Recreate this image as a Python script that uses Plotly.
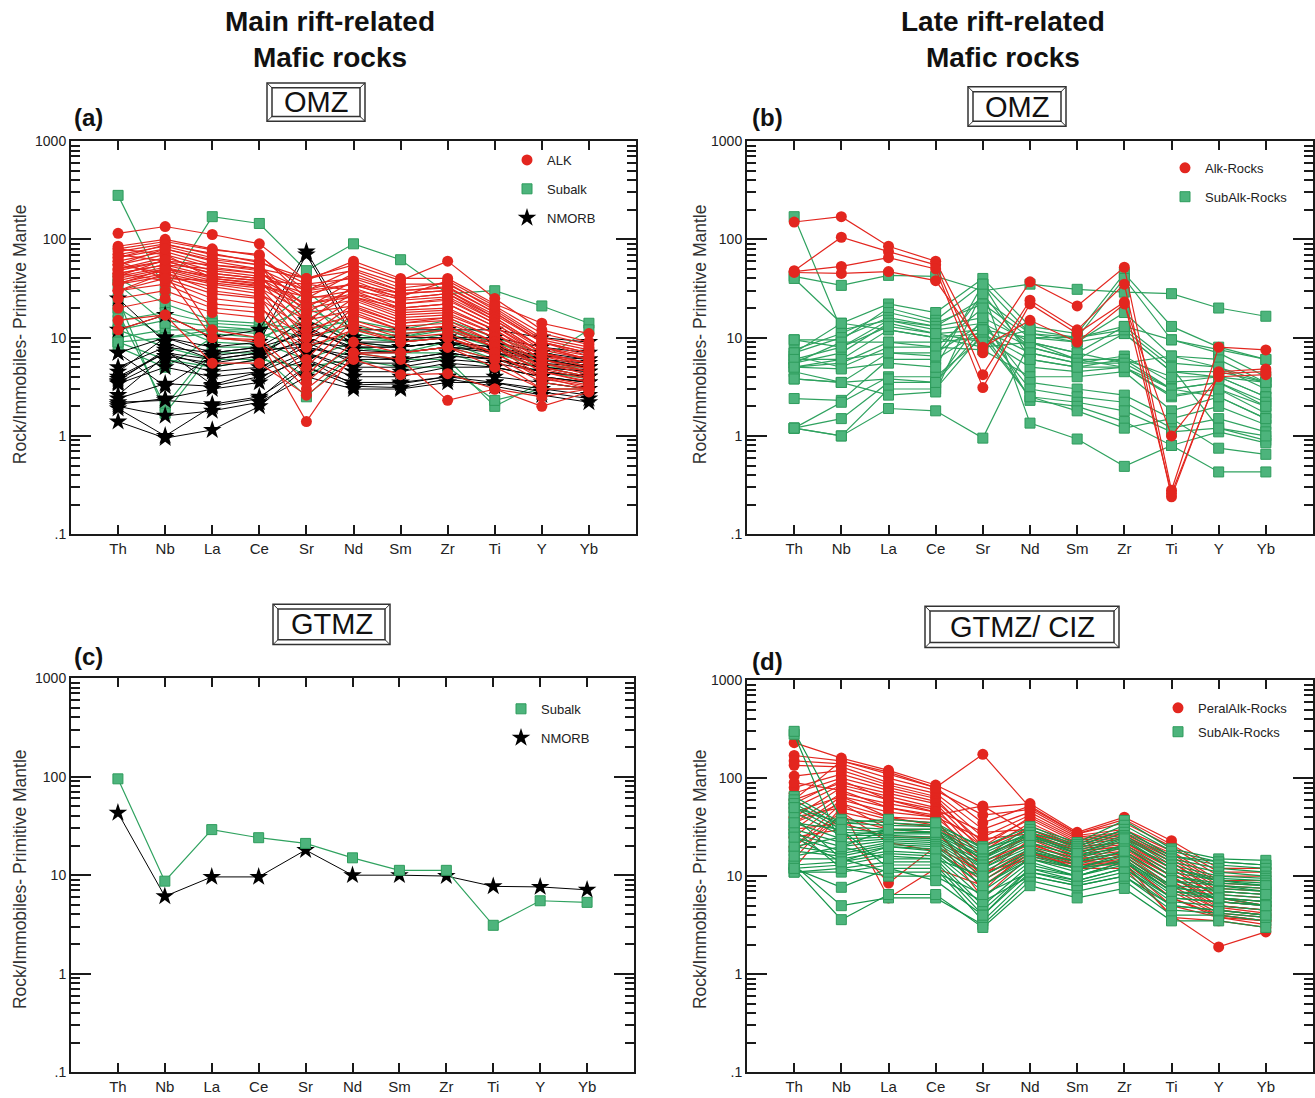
import plotly.graph_objects as go
from plotly.subplots import make_subplots

W, H = 1315, 1098
elements = ["Th", "Nb", "La", "Ce", "Sr", "Nd", "Sm", "Zr", "Ti", "Y", "Yb"]
ytick_vals = [0.1, 1, 10, 100, 1000]
ytick_text = [".1", "1", "10", "100", "1000"]

# ---------------- Panel (a): Main rift-related, OMZ ----------------
alk_a = [
    [115, 135, 112, 90, 38, 60, 40, 40, 22, 14, 11],
    [85, 100, 80, 68, 30, 50, 35, 35, 20, 10, 8],
    [80, 95, 78, 70, 25, 45, 30, 33, 18, 9, 7],
    [75, 90, 70, 60, 35, 40, 28, 30, 17, 9, 6.5],
    [70, 85, 65, 55, 20, 38, 25, 28, 16, 8, 6],
    [65, 80, 60, 50, 30, 35, 24, 26, 15, 8, 6],
    [60, 75, 55, 48, 18, 32, 22, 24, 14, 7, 5.5],
    [55, 70, 52, 45, 25, 30, 20, 22, 13, 7, 5],
    [50, 65, 48, 42, 15, 28, 19, 20, 12, 6.5, 5],
    [48, 60, 45, 40, 22, 26, 18, 19, 12, 6, 4.8],
    [45, 55, 42, 38, 12, 25, 17, 18, 11, 6, 4.5],
    [42, 52, 40, 35, 20, 24, 16, 17, 11, 5.5, 4.5],
    [40, 50, 38, 33, 10, 22, 15, 16, 10, 5.5, 4.2],
    [38, 48, 36, 32, 18, 21, 14, 16, 10, 5, 4],
    [36, 45, 35, 30, 8, 20, 14, 15, 9, 5, 4],
    [35, 42, 33, 28, 15, 19, 13, 14, 9, 4.8, 3.8],
    [55, 45, 30, 26, 6, 18, 12, 13, 8, 4.5, 3.5],
    [60, 40, 28, 25, 12, 17, 12, 13, 8.5, 4.5, 3.6],
    [45, 38, 25, 22, 5, 15, 11, 12, 8, 4, 3.3],
    [30, 35, 22, 20, 10, 14, 10, 11, 7, 4, 3],
    [25, 30, 20, 18, 4, 13, 9, 10, 6.5, 3.5, 3],
    [15, 17, 10, 9, 3, 7, 7, 8, 5, 3, 3],
    [12, 17, 5.5, 5.5, 2.6, 6, 4.2, 4.3, 3, 2, 2.8],
    [30, 45, 10, 9.5, 1.4, 7, 6, 2.3, 3, 2.5, 3],
    [50, 60, 55, 50, 40, 48, 32, 36, 19, 9.5, 7.5],
    [45, 55, 50, 45, 30, 42, 30, 32, 18, 9, 7],
    [70, 60, 45, 40, 28, 35, 28, 30, 16, 8, 6.5],
    [35, 50, 42, 38, 35, 30, 25, 28, 15, 7.5, 6],
    [80, 70, 40, 36, 22, 28, 22, 25, 14, 7, 5.5],
    [30, 40, 38, 34, 26, 26, 20, 22, 13, 6.5, 5.5],
    [65, 88, 72, 58, 40, 55, 38, 60, 25, 12, 9],
    [20, 25, 18, 16, 8, 12, 9, 10, 7, 3.8, 3.2],
    [42, 62, 12, 10, 3.5, 9, 7, 8, 6, 3, 3],
    [55, 80, 62, 55, 14, 34, 26, 38, 21, 11, 8.5],
]
subalk_a = [
    [280, 30, 170, 145, 48, 90, 62, 28, 30, 21, 14],
    [40, 22, 15, 14, 12, 15, 12, 15, 10, 7, 5],
    [15, 18, 14, 13, 10, 13, 11, 12, 9, 6, 5],
    [12, 15, 13, 12, 20, 12, 10, 13, 9, 6, 4.5],
    [10, 12, 12, 11, 8, 11, 9, 11, 8, 5.5, 4.5],
    [9, 10, 11, 10, 15, 10, 9, 10, 7, 5, 4],
    [8, 5, 10, 9, 6, 9, 8, 9, 7, 5, 4],
    [35, 14, 9, 8.5, 25, 8, 7, 8, 6, 4.5, 3.8],
    [18, 2, 8, 8, 4, 8, 7, 7, 5, 4, 3.5],
    [25, 1.7, 7, 7, 2.5, 7, 6, 6, 2, 3.5, 3],
    [12, 8, 6, 6, 5, 6, 5, 5, 2.3, 3, 3],
    [20, 10, 12, 12, 30, 12, 10, 12, 8, 6, 12],
    [9, 6, 5, 6, 18, 8, 7, 9, 6, 5, 5],
]
nmorb_a = [
    [12, 17, 10, 12, 75, 12, 12, 12, 12, 10, 9],
    [7, 10, 8, 9, 70, 10, 10, 10, 10, 8, 7],
    [5, 8, 7, 8, 15, 9, 9, 10, 9, 7, 6],
    [4, 7, 6, 7, 12, 8, 8, 9, 8, 6, 5.5],
    [3.8, 7, 5, 6, 10, 7, 7, 8, 7, 5.5, 5],
    [3.5, 6, 4.5, 5, 8, 6, 6, 7, 6, 5, 4.5],
    [3.4, 5, 4, 4.5, 7, 5, 5, 6, 5.5, 4.5, 4],
    [2.4, 3.4, 3.2, 4, 6, 4, 4, 5, 5, 4, 3.5],
    [2.2, 2.3, 2.1, 2.5, 5, 3.5, 3.5, 4, 4, 3.5, 3],
    [2, 1.6, 1.8, 2.2, 4, 3, 3, 3.5, 3.5, 3, 2.6],
    [1.4, 0.95, 1.15, 2, 5, 3.2, 3.1, 3.8, 3.2, 2.6, 2.2],
    [1.9, 1, 2, 2.4, 6, 3.3, 3.4, 4, 3.5, 2.8, 2.4],
    [25, 9, 6, 7, 9, 8, 8, 9, 7, 6, 5],
    [4.5, 10, 7, 8, 11, 9, 8, 9, 8, 6.5, 6],
    [3.6, 7.5, 3.3, 4.5, 9, 5.5, 5.5, 6.5, 6, 5, 4.5],
    [2.6, 6.5, 5.5, 6.5, 13, 7.5, 7, 8, 7.5, 6, 5],
    [7, 3.2, 6.5, 7.5, 8, 6.5, 6, 7, 6, 4.5, 4],
    [2.1, 2.4, 3, 3.5, 7, 4.5, 4.5, 5.5, 5, 4, 3.5],
]

# ---------------- Panel (b): Late rift-related, OMZ ----------------
alk_b = [
    [150, 170, 85, 60, 7, 37, 21, 52, 0.28, 8, 7.5],
    [48, 105, 75, 55, 4.2, 24, 12, 35, 0.24, 4.5, 4.8],
    [47, 53, 65, 50, 3.1, 22, 11, 23, 0.26, 4.3, 4.5],
    [46, 45, 47, 38, 8, 15, 9, 22, 1.0, 4.0, 4.2],
]
subalk_b = [
    [170, 12, 15, 13, 25, 11, 9, 11, 4.5, 4, 3.5],
    [42, 34, 43, 42, 30, 35, 31, 29, 28, 20, 16.5],
    [40, 14, 22, 18, 40, 13, 11, 45, 13, 8, 6],
    [9.5, 9.5, 20, 15, 35, 11, 10, 40, 9.5, 7, 4],
    [7.5, 11, 18, 14, 22, 10, 9, 18, 6.5, 6, 3.5],
    [7, 10, 16, 13, 16, 9, 7, 13, 5.5, 5, 3],
    [6, 8, 15, 12, 14, 8, 6, 11, 4.5, 4.5, 3.5],
    [5.5, 7, 14, 11, 12, 7, 5.5, 6.5, 3.5, 4, 2.5],
    [5, 6, 12, 10, 11, 6, 5, 6, 3, 3.5, 2],
    [5, 5.5, 9, 9, 10, 5, 4.5, 5, 2.5, 3, 1.7],
    [6.5, 5, 8, 8, 7.5, 4, 4, 4.5, 1.8, 2.5, 1.5],
    [3.8, 3.5, 7, 7, 14, 3.5, 3, 2.6, 1.5, 2, 1.3],
    [2.4, 2.3, 6, 6, 12, 3, 2.5, 2.2, 1.2, 1.5, 1.1],
    [1.2, 2.2, 4, 4, 10, 2.5, 2.2, 1.8, 1.1, 1.2, 0.9],
    [1.2, 1.5, 3.5, 3.5, 16, 2.3, 2, 1.4, 0.8, 1.1, 0.85],
    [1.2, 1.0, 3, 3, 11, 2.5, 1.8, 1.2, 1.5, 0.75, 0.65],
    [4.5, 3.5, 2.6, 2.8, 30, 1.35, 0.93, 0.49, 0.8, 0.43, 0.43],
    [1.2, 1.0, 1.9, 1.8, 0.95, 9, 6, 5, 3, 2.5, 1.5],
    [7, 14, 12, 10, 8, 9, 7, 5.5, 6.5, 5, 3.5],
    [5.5, 9, 9, 8, 20, 8, 6, 6, 4, 4, 2.5],
    [6, 6, 7, 6.5, 28, 7, 5.5, 5.5, 3, 3.5, 2.2],
    [5, 4.8, 5.5, 5, 35, 6, 5, 5, 2.6, 3, 2],
    [3.8, 3.5, 3.8, 3.5, 12, 10, 10, 12, 5, 1.2, 1.0],
    [9.5, 8, 13, 11, 9, 12, 10, 13, 9.5, 7.5, 6],
]

# ---------------- Panel (c): Main rift-related, GTMZ ----------------
subalk_c = [[95, 8.7, 29, 24, 21, 15, 11.2, 11.2, 3.1, 5.5, 5.3]]
nmorb_c = [[43, 6.1, 9.6, 9.6, 18, 10, 10, 9.8, 7.7, 7.6, 7.1]]

# ---------------- Panel (d): Late rift-related, GTMZ/CIZ ----------------
peralk_d = [
    [230, 160, 120, 85, 50, 55, 28, 40, 23, 12, 12],
    [170, 150, 110, 80, 175, 50, 27, 35, 20, 10, 10],
    [150, 140, 100, 75, 42, 48, 26, 30, 18, 9, 9],
    [135, 130, 90, 70, 30, 45, 25, 28, 17, 8.5, 8],
    [105, 120, 85, 65, 25, 42, 24, 27, 16, 8, 7.5],
    [80, 110, 80, 62, 20, 40, 23, 26, 15, 7.5, 7],
    [70, 100, 75, 58, 22, 38, 22, 25, 14, 7, 6.5],
    [60, 90, 70, 55, 18, 35, 21, 24, 14, 6.5, 6],
    [50, 85, 65, 50, 15, 33, 20, 22, 13, 6, 5.5],
    [40, 80, 60, 48, 28, 30, 19, 21, 12, 6, 5],
    [35, 70, 55, 45, 12, 28, 18, 20, 11, 5.5, 5],
    [30, 65, 50, 42, 52, 27, 17, 19, 10, 5, 4.5],
    [25, 60, 45, 40, 16, 25, 16, 18, 10, 5, 4.5],
    [20, 55, 40, 38, 10, 24, 15, 17, 9, 4.5, 4],
    [15, 50, 38, 35, 14, 22, 14, 16, 8, 4.5, 4],
    [12, 45, 35, 32, 7, 20, 13, 15, 7, 4, 3.5],
    [18, 40, 30, 30, 9, 18, 12, 14, 6, 4, 3.5],
    [30, 35, 25, 25, 6, 16, 13, 13, 5, 3.8, 3.2],
    [25, 30, 8.5, 20, 11, 15, 12, 12, 4, 1.9, 2.7],
    [40, 50, 6, 12, 8, 17, 14, 14, 3.8, 3.5, 3],
    [55, 95, 60, 45, 20, 30, 20, 22, 12, 6, 5],
    [90, 75, 50, 40, 24, 27, 18, 20, 10, 5.5, 5],
    [45, 65, 40, 33, 13, 21, 15, 17, 9, 4.8, 4.2],
    [35, 55, 30, 28, 10, 19, 14, 16, 7.5, 4.2, 3.8],
    [60, 150, 115, 80, 35, 52, 27, 38, 21, 11, 11],
    [20, 45, 22, 18, 9, 17, 13, 14, 6, 3.8, 3.5],
]
subalk_d = [
    [280, 20, 30, 30, 15, 28, 20, 30, 16, 14, 13],
    [300, 38, 35, 33, 20, 32, 22, 37, 19, 15, 14.5],
    [65, 35, 33, 32, 18, 30, 21, 33, 18, 14, 13],
    [60, 32, 30, 30, 17, 28, 20, 30, 16, 13, 12],
    [55, 30, 28, 28, 16, 26, 19, 28, 15, 12, 11],
    [50, 28, 27, 27, 15, 25, 18, 26, 14, 11, 10],
    [45, 26, 26, 25, 14, 24, 17, 25, 13, 10, 9.5],
    [35, 24, 25, 24, 13, 22, 16, 23, 12, 9.5, 9],
    [30, 22, 24, 23, 12, 20, 15, 21, 11, 9, 8.5],
    [27, 20, 23, 22, 11, 19, 14, 20, 10, 8.5, 8],
    [25, 18, 22, 21, 10, 18, 13, 18, 9, 8, 7.5],
    [20, 17, 21, 20, 9, 17, 12, 17, 8, 7.5, 7],
    [18, 16, 20, 19, 8, 16, 12, 16, 7.5, 7, 6.5],
    [15, 15, 18, 17, 7, 15, 11, 15, 7, 6.5, 6],
    [13, 14, 17, 16, 6, 14, 10, 14, 6.5, 6, 5.5],
    [12, 13, 16, 15, 5, 13, 10, 13, 6, 5.5, 5],
    [11, 12, 14, 14, 4.5, 12, 9, 12, 5.5, 5, 4.5],
    [11, 11, 13, 13, 4, 11, 8.5, 11, 5, 4.5, 4],
    [12, 7.7, 12, 12, 3.5, 10, 8, 10, 4.5, 4.2, 3.8],
    [13, 5, 6, 6, 3.2, 9, 7, 9, 4, 4, 3.5],
    [12, 3.6, 6.5, 6.5, 3, 8, 6, 7.5, 3.5, 3.5, 3],
    [30, 12, 10, 10, 5.5, 10, 8, 10, 5, 4.5, 4],
    [40, 15, 11, 11, 6.5, 11, 9, 12, 6, 5.5, 5],
    [20, 25, 30, 28, 12, 22, 16, 20, 10, 8, 7],
    [50, 35, 38, 35, 19, 26, 17, 24, 12, 9, 8],
    [25, 14, 20, 18, 8, 15, 12, 14, 8, 6, 5.5],
    [16, 20, 15, 15, 10, 18, 14, 18, 9, 7, 6.5],
    [35, 30, 12, 9, 4, 12, 10, 14, 7, 6, 5],
]

# ---------------- styling ----------------
RED = "#E3261F"
GREEN_FILL = "#4DB47C"
GREEN_EDGE = "#2E9C5C"
GREEN_LINE = "#2FA25F"
GREEN_LINE_D = "#16954A"
BLACK = "#000000"
NARROW = "Liberation Sans Narrow, Arial Narrow, Liberation Sans, Arial, sans-serif"
SANS = "Liberation Sans, Arial, Helvetica, sans-serif"

STY = {
    "red": dict(line=dict(color=RED, width=1.2),
                marker=dict(symbol="circle", size=11, color=RED, line=dict(width=0))),
    "green": dict(line=dict(color=GREEN_LINE, width=1.2),
                  marker=dict(symbol="square", size=10, color=GREEN_FILL,
                              line=dict(color=GREEN_EDGE, width=1))),
    "greend": dict(line=dict(color=GREEN_LINE_D, width=1.2),
                   marker=dict(symbol="square", size=10, color=GREEN_FILL,
                               line=dict(color=GREEN_EDGE, width=1))),
    "black": dict(line=dict(color=BLACK, width=1),
                  marker=dict(symbol="star", size=14, color=BLACK, line=dict(width=0))),
}


def px(x):
    return x / W


def py(y):
    return 1 - y / H


fig = make_subplots(rows=2, cols=2)

panels = {
    (1, 1): dict(xd=(71, 636), yd=(135, 534)),
    (1, 2): dict(xd=(747, 1313), yd=(135, 534)),
    (2, 1): dict(xd=(71, 634), yd=(680, 1080)),
    (2, 2): dict(xd=(747, 1313), yd=(682, 1080)),
}


def add_group(samples, style, row, col):
    xs, ys = [], []
    for s in samples:
        xs += elements + [None]
        ys += list(s) + [None]
    st = STY[style]
    fig.add_trace(go.Scatter(x=xs, y=ys, mode="lines+markers", line=st["line"],
                             marker=st["marker"], showlegend=False,
                             connectgaps=False, hoverinfo="skip"),
                  row=row, col=col)


def add_legend_item(name, style, row, col, legend):
    st = STY[style]
    fig.add_trace(go.Scatter(x=[None], y=[None], mode="markers", name=name,
                             marker=st["marker"], legend=legend,
                             legendgroup=name + legend, showlegend=True),
                  row=row, col=col)


# panel a
add_group(subalk_a, "green", 1, 1)
add_group(nmorb_a, "black", 1, 1)
add_group(alk_a, "red", 1, 1)
add_legend_item("ALK", "red", 1, 1, "legend")
add_legend_item("Subalk", "green", 1, 1, "legend")
add_legend_item("NMORB", "black", 1, 1, "legend")
# panel b
add_group(subalk_b, "green", 1, 2)
add_group(alk_b, "red", 1, 2)
add_legend_item("Alk-Rocks", "red", 1, 2, "legend2")
add_legend_item("SubAlk-Rocks", "green", 1, 2, "legend2")
# panel c
add_group(nmorb_c, "black", 2, 1)
add_group(subalk_c, "green", 2, 1)
add_legend_item("Subalk", "green", 2, 1, "legend3")
add_legend_item("NMORB", "black", 2, 1, "legend3")
# panel d
add_group(peralk_d, "red", 2, 2)
add_group(subalk_d, "greend", 2, 2)
add_legend_item("PeralAlk-Rocks", "red", 2, 2, "legend4")
add_legend_item("SubAlk-Rocks", "green", 2, 2, "legend4")

minor_vals = [m * 10 ** e for e in (-1, 0, 1, 2) for m in range(2, 10)]

for (r, c), p in panels.items():
    xd = [px(p["xd"][0]), px(p["xd"][1])]
    yd = [py(p["yd"][1]), py(p["yd"][0])]
    fig.update_xaxes(row=r, col=c, domain=xd, type="category",
                     categoryorder="array", categoryarray=elements,
                     range=[-1, 11], showgrid=False, zeroline=False,
                     showline=True, linecolor="#1a1a1a", linewidth=2,
                     mirror="allticks", ticks="inside", ticklen=9, tickwidth=1.5,
                     tickcolor="#1a1a1a",
                     tickfont=dict(family=NARROW, size=15, color="#222"))
    fig.update_yaxes(row=r, col=c, domain=yd, type="log", range=[-1, 3],
                     tickmode="array", tickvals=ytick_vals, ticktext=ytick_text,
                     showgrid=False, zeroline=False, showline=True,
                     linecolor="#1a1a1a", linewidth=2, mirror="allticks",
                     ticks="inside", ticklen=20, tickwidth=1.5, tickcolor="#1a1a1a",
                     minor=dict(tickvals=minor_vals, ticks="inside", ticklen=9,
                                tickwidth=1.5, tickcolor="#1a1a1a", showgrid=False),
                     tickfont=dict(family=NARROW, size=14, color="#222"))

leg_common = dict(xanchor="left", yanchor="top", bgcolor="rgba(0,0,0,0)",
                  font=dict(family=NARROW, size=13, color="#222"),
                  tracegroupgap=9, itemclick=False)
fig.update_layout(
    legend=dict(x=px(507), y=py(139), **leg_common),
    legend2=dict(x=px(1165), y=py(147), **leg_common),
    legend3=dict(x=px(501), y=py(696), **leg_common),
    legend4=dict(x=px(1158), y=py(695), **{**leg_common, "tracegroupgap": 4}),
)

annotations = []
# main titles
for cx, txt in [(330, "Main rift-related<br>Mafic rocks"),
                (1003, "Late rift-related<br>Mafic rocks")]:
    annotations.append(dict(x=px(cx), y=py(32), xref="paper", yref="paper",
                            text="<b>" + txt + "</b>", showarrow=False,
                            font=dict(family=SANS, size=28, color="#111"),
                            xanchor="center", yanchor="middle"))
# panel letters
for x0, yc, t in [(72, 111, "(a)"), (750, 111, "(b)"), (72, 658, "(c)"), (750, 663, "(d)")]:
    annotations.append(dict(x=px(x0), y=py(yc), xref="paper", yref="paper",
                            text="<b>" + t + "</b>", showarrow=False,
                            font=dict(family=SANS, size=24, color="#111"),
                            xanchor="left", yanchor="middle"))
# y-axis titles
for xc, yc in [(20, 331), (700, 331), (20, 884), (700, 884)]:
    annotations.append(dict(x=px(xc), y=py(yc), xref="paper", yref="paper",
                            text="Rock/Immobiles- Primitive Mantle", textangle=-90,
                            showarrow=False,
                            font=dict(family=NARROW, size=17.5, color="#333"),
                            xanchor="center", yanchor="middle"))

shapes = []
boxes = [
    (267, 76, 365, 115, "OMZ"),
    (968, 80, 1066, 120, "OMZ"),
    (273, 605, 390, 646, "GTMZ"),
    (925, 607, 1119, 649, "GTMZ/ CIZ"),
]
for x0, y0, x1, y1, label in boxes:
    d = 5
    shapes.append(dict(type="rect", xref="paper", yref="paper",
                       x0=px(x0), x1=px(x1), y0=py(y1), y1=py(y0),
                       line=dict(color="#333", width=1.5)))
    shapes.append(dict(type="rect", xref="paper", yref="paper",
                       x0=px(x0 + d), x1=px(x1 - d), y0=py(y1 - d), y1=py(y0 + d),
                       line=dict(color="#333", width=1.5)))
    for (ax, ay, bx, by) in [(x0, y0, x0 + d, y0 + d), (x1, y0, x1 - d, y0 + d),
                             (x0, y1, x0 + d, y1 - d), (x1, y1, x1 - d, y1 - d)]:
        shapes.append(dict(type="line", xref="paper", yref="paper",
                           x0=px(ax), y0=py(ay), x1=px(bx), y1=py(by),
                           line=dict(color="#333", width=1)))
    annotations.append(dict(x=px((x0 + x1) / 2), y=py((y0 + y1) / 2), xref="paper",
                            yref="paper", text=label, showarrow=False,
                            font=dict(family=SANS, size=29, color="#111"),
                            xanchor="center", yanchor="middle"))

fig.update_layout(width=W, height=H, autosize=False,
                  margin=dict(l=0, r=0, t=0, b=0),
                  paper_bgcolor="white", plot_bgcolor="white",
                  annotations=annotations, shapes=shapes)

fig.write_html("out.html")
